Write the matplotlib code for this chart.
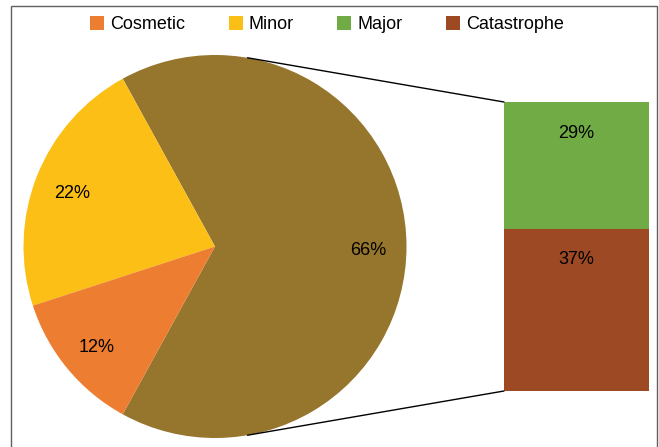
import numpy as np
import matplotlib
matplotlib.use("Agg")
import matplotlib.pyplot as plt
from matplotlib.patches import ConnectionPatch, Patch, Rectangle

plt.rcParams['font.family'] = ['Liberation Sans', 'DejaVu Sans']

# data
pie_labels = ['Other', 'Minor', 'Cosmetic']
pie_vals = [66, 22, 12]
pie_cols = ['#96752D', '#FBBF16', '#ED7D31']

bar_labels = ['Catastrophe', 'Major']   # bottom -> top
bar_vals = [37, 29]
bar_cols = ['#9D4A24', '#70AB46']

legend_labels = ['Cosmetic', 'Minor', 'Major', 'Catastrophe']
legend_cols = ['#ED7D31', '#FBBF16', '#70AB46', '#9D4A24']

W, H = 659, 447
fs = 13
fig = plt.figure(figsize=(W / 100, H / 100), dpi=100)

# frame around the chart
fig.patches.append(Rectangle((11 / W, -0.05), (657 - 11) / W, 1.05 - 6 / H,
                             transform=fig.transFigure, fill=False,
                             edgecolor='#606060', lw=1))

# pie axes (centre 215,246 radius 191.5 in px)
cx, cy, r = 215, 246.5, 191.5
ax1 = fig.add_axes([(cx - r) / W, (H - cy - r) / H, 2 * r / W, 2 * r / H])
start = -pie_vals[0] / 100 * 180
wedges, txts, pcts = ax1.pie(pie_vals, colors=pie_cols, startangle=start,
                             autopct='%1.0f%%', pctdistance=0.8,
                             wedgeprops=dict(linewidth=0),
                             textprops=dict(fontsize=fs, color='black'))
for t in pcts:
    x, y = t.get_position()
    t.set_position((x, y - 0.02))
ax1.set_xlim(-1, 1)
ax1.set_ylim(-1, 1)
ax1.set_aspect('equal')

# bar axes
bx0, bx1, by0, by1 = 504, 649, 102, 391
ax2 = fig.add_axes([bx0 / W, (H - by1) / H, (bx1 - bx0) / W, (by1 - by0) / H])
bottom = 0
for v, c in zip(bar_vals, bar_cols):
    ax2.bar(0.5, v, width=1, bottom=bottom, color=c, linewidth=0)
    ax2.text(0.5, bottom + v - 31 / (by1 - by0) * sum(bar_vals), '%d%%' % v,
             ha='center', va='center', fontsize=fs)
    bottom += v
ax2.set_xlim(0, 1)
ax2.set_ylim(0, sum(bar_vals))
ax2.axis('off')

# tangent lines from bar corners to the pie
for corner_y, sgn in [(by0, 1), (by1, -1)]:
    px = (bx0 - cx) / r
    py = (cy - corner_y) / r
    d = np.hypot(px, py)
    phi = np.arctan2(py, px) + sgn * np.arccos(1 / d)
    con = ConnectionPatch(xyA=(np.cos(phi), np.sin(phi)), coordsA=ax1.transData,
                          xyB=(0, sum(bar_vals) if sgn > 0 else 0),
                          coordsB=ax2.transData, color='black', lw=1)
    fig.add_artist(con)

handles = [Patch(facecolor=c, edgecolor='none') for c in legend_cols]
fig.legend(handles, legend_labels, loc='center', bbox_to_anchor=(327 / W, 1 - 24.5 / H),
           ncol=4, frameon=False, fontsize=fs, handlelength=0.78, handleheight=0.78,
           handletextpad=0.33, columnspacing=2.4)

fig.savefig('out.png', dpi=100)
